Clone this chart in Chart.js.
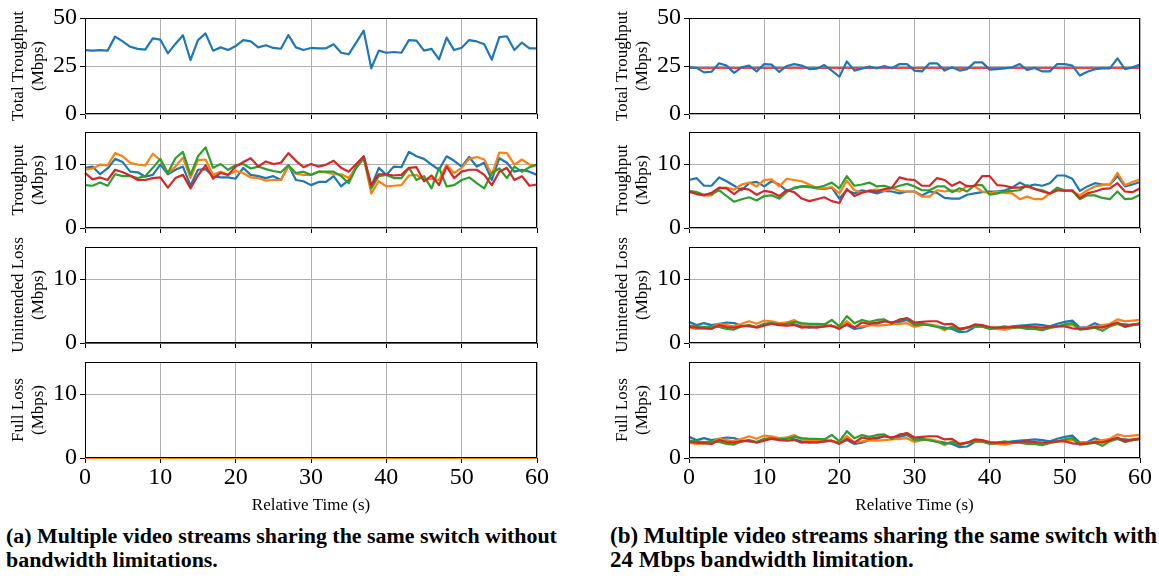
<!DOCTYPE html>
<html><head><meta charset="utf-8">
<script src="https://cdn.jsdelivr.net/npm/chart.js@4"></script>
<style>
html,body{margin:0;padding:0;background:#fff;}
body{width:1159px;height:578px;position:relative;overflow:hidden;}
canvas{position:absolute;}
.cap{position:absolute;font-family:'Liberation Serif',serif;font-weight:bold;font-size:20px;line-height:24px;color:#000;white-space:nowrap;}
</style></head><body>
<div id="capA" class="cap" style="left:6px;top:524px;">(a) Multiple video streams sharing the same switch without<br>bandwidth limitations.</div>
<div id="capB" class="cap" style="left:610px;top:524px;">(b) Multiple video streams sharing the same switch with<br>24 Mbps bandwidth limitation.</div>
<script>
// ---------- data ----------
const time = [0,1,2,3,4,5,6,7,8,9,10,11,12,13,14,15,16,17,18,19,20,21,22,23,24,25,26,27,28,29,30,31,32,33,34,35,36,37,38,39,40,41,42,43,44,45,46,47,48,49,50,51,52,53,54,55,56,57,58,59,60];
const xTicks = [0,10,20,30,40,50,60];
const yTicksTotal = [0,25,50];
const yTicksRate = [0,10];
const rowTitles = ['Total Troughput','Troughput','Unintended Loss','Full Loss'];
const unitTitle = '(Mbps)';
const xTitle = 'Relative Time (s)';
const bwLimitB = 24;

// (a) no bandwidth limitation
const totA = [33.3,33,33.3,33,40.3,37.8,35,33.9,33.5,39.4,38.7,31.6,36.5,41,28.1,38.5,42,33,34.7,33.3,35.4,38.5,37.8,34.7,35.8,34.4,34,41.1,34.7,33.3,34.4,34.2,34.2,36.3,31.9,31.1,37.2,43.4,23.8,33,31.9,32.3,31.9,38.5,38.2,33,33.9,28.5,39.8,33.3,34.5,38.5,37.8,36.3,28.3,40,40.5,33.3,37.2,34.2,34.2];
const thrA_blue = [9.4,9.6,8.4,9.3,10.8,10.3,8.8,8.7,8.0,8.3,9.9,8.4,9.1,9.6,6.6,9.1,9.2,8.1,7.9,7.9,7.7,9.4,8.3,8.1,7.8,8.1,7.5,9.8,7.5,7.3,6.7,7.2,7.2,8.1,6.5,7.5,9.6,11.2,6.5,9.4,8.3,9.6,9.5,11.9,11.2,10.8,9.9,9.1,11.2,10.5,9.6,11.1,9.6,10.2,7.5,10.9,10.2,8.8,9.1,8.8,8.3];
const thrA_orange = [9.1,9.3,9.9,9.8,11.7,11.2,10.2,9.9,9.8,11.6,10.6,8.6,9.6,11.0,7.8,10.6,10.7,8.3,8.8,8.3,8.9,8.6,7.9,7.8,7.4,7.5,7.5,9.6,8.5,8.3,8.3,8.8,8.7,8.4,8.4,7.8,9.4,10.9,5.4,7.3,6.5,6.6,6.7,8.2,8.3,7.5,7.7,7.5,9.9,8.6,9.4,10.8,11.1,10.7,8.3,11.8,11.7,9.9,10.7,9.9,9.8];
const thrA_green = [6.7,6.6,7.1,6.6,8.4,8.1,8.1,7.8,8.1,9.4,10.8,8.6,10.9,11.9,8.3,11.2,12.6,9.4,10.0,9.1,9.8,10.0,9.3,9.6,9.2,8.9,8.7,9.8,8.6,8.8,8.3,8.8,8.8,8.8,8.1,7.0,9.4,10.9,6.2,8.1,8.3,7.8,7.8,9.4,7.5,8.1,6.2,9.4,6.5,6.7,7.5,7.9,7.0,6.2,8.6,9.3,7.8,9.6,8.8,9.5,9.9];
const thrA_red = [8.6,7.6,7.9,7.5,9.1,8.7,8.2,7.5,7.5,7.8,7.9,6.3,7.8,8.3,6.2,8.2,9.8,7.7,8.6,8.3,9.6,10.3,10.9,9.6,10.4,10.0,10.2,11.7,10.5,9.5,10.0,9.6,9.9,10.5,9.4,8.8,10.0,11.2,6.7,8.4,8.4,8.2,8.3,9.4,9.5,7.3,8.2,6.7,9.6,7.8,8.8,9.1,9.1,8.3,6.7,8.8,9.4,7.5,8.1,6.6,6.8];
const unintA = [0,0,0,0,0,0,0,0,0,0,0,0,0,0,0,0,0,0,0,0,0,0,0,0,0,0,0,0,0,0,0,0,0,0,0,0,0,0,0,0,0,0,0,0,0,0,0,0,0,0,0,0,0,0,0,0,0,0,0,0,0];
const fullA = [0,0,0,0,0,0,0,0,0,0,0,0,0,0,0,0,0,0,0,0,0,0,0,0,0,0,0,0,0,0,0,0,0,0,0,0,0,0,0,0,0,0,0,0,0,0,0,0,0,0,0,0,0,0,0,0,0,0,0,0,0];

// (b) 24 Mbps limitation
const totB = [24.3,24,21.7,22,26.4,25.2,21.4,24.3,25.2,22.2,26,25.7,21.9,25,26,25.2,23.4,23.6,25.5,22.6,19.4,27.4,22.6,23.6,24.7,23.8,25,23.8,26,26,22.6,22.2,26.4,26.4,22.6,24.3,22.6,23.4,26.9,26.9,23.1,23.4,23.8,24.3,26,22.9,24,22.2,22.2,26,26,25.2,20,22,23.3,23.8,23.8,29,23.4,24.3,25.7];
const thrB_blue = [7.5,7.8,6.6,6.6,7.9,7.3,6.6,5.9,7.0,7.2,6.5,7.3,6.8,5.8,6.2,6.5,6.5,6.2,6.1,6.3,4.6,5.9,5.4,5.9,5.7,5.4,5.8,5.7,5.4,5.7,5.7,5.1,5.7,5.5,4.7,4.6,4.6,5.2,5.4,5.6,5.7,5.7,5.9,6.3,7.1,6.5,6.8,6.6,7.0,8.2,8.2,7.7,5.8,6.5,7.0,6.8,6.8,8.1,6.5,6.8,7.2];
const thrB_orange = [5.6,5.4,5.1,5.1,6.2,6.3,6.0,6.8,7.1,6.5,7.5,7.6,6.5,7.7,7.5,7.3,6.8,6.3,6.2,6.4,5.4,7.4,5.9,5.5,5.9,6.0,5.8,6.2,5.8,5.7,5.7,4.9,4.9,5.9,5.7,5.9,5.7,6.6,6.5,5.7,5.4,5.7,5.5,5.4,4.5,4.9,4.5,4.5,5.4,5.9,5.9,5.7,5.1,5.9,6.5,6.7,6.8,8.6,6.7,7.2,7.6];
const thrB_green = [5.8,5.6,5.2,5.3,5.9,5.0,4.1,4.5,4.8,4.3,5.0,5.1,4.6,5.6,6.3,6.5,6.4,6.3,6.6,7.1,6.2,8.1,6.6,6.8,7.1,6.5,6.6,6.2,6.6,6.9,6.5,5.9,5.9,6.5,6.5,5.6,6.2,5.7,6.7,6.7,5.2,5.4,5.7,5.8,5.9,6.7,6.1,5.9,5.4,6.3,5.9,5.8,4.5,5.1,5.1,4.7,4.5,5.7,4.5,4.6,5.2];
const thrB_red = [5.7,5.3,5.1,5.5,6.3,6.2,5.3,6.2,6.0,5.2,5.8,5.6,5.0,5.9,5.6,4.6,4.2,4.5,4.8,4.2,3.9,6.1,5.0,5.5,5.8,5.7,6.1,6.3,7.9,7.6,7.5,6.6,6.6,7.8,7.5,6.6,7.2,6.5,6.6,8.1,8.1,6.7,6.6,6.3,6.3,6.5,6.1,5.7,5.4,5.9,5.8,5.9,4.7,5.4,5.7,6.1,6.2,7.0,5.7,5.6,6.2];
const unintB_blue = [3.3,2.8,3.1,2.8,3.0,3.2,3.1,2.7,2.6,2.5,3.0,3.1,3.0,3.2,2.9,2.6,2.4,2.5,2.6,2.7,2.3,2.8,2.2,2.4,2.8,3.0,3.4,3.2,3.3,3.6,2.9,3.0,2.8,2.6,2.4,2.2,1.7,1.8,2.5,2.6,2.3,2.2,2.4,2.6,2.7,2.8,2.9,2.8,2.6,3.0,3.3,3.5,2.4,2.5,3.1,2.6,2.8,3.0,2.9,2.8,3.1];
const unintB_orange = [2.4,2.2,2.3,2.5,3.0,2.8,2.6,3.0,3.4,3.0,3.5,3.4,3.1,3.2,3.6,2.9,2.7,2.8,2.9,2.6,2.5,3.4,2.5,2.6,2.8,2.7,2.8,2.9,3.0,3.1,2.5,2.8,2.9,2.7,2.0,2.6,2.2,2.4,2.6,2.5,2.4,2.2,2.1,2.3,2.5,2.4,2.2,2.1,2.3,2.6,2.7,2.8,2.3,2.4,2.6,2.8,3.0,3.7,3.4,3.5,3.6];
const unintB_green = [2.7,2.6,2.5,2.6,2.5,2.2,2.1,2.6,2.8,2.5,2.9,3.1,2.9,3.0,3.3,3.1,3.0,3.0,2.9,3.6,2.6,4.2,3.1,3.6,3.3,3.6,3.7,3.0,3.7,3.8,2.8,2.9,2.8,2.5,2.2,2.5,2.0,2.4,2.6,2.6,2.2,2.4,2.6,2.4,2.4,2.2,2.2,2.0,2.4,2.6,2.9,3.1,2.1,2.2,2.4,1.9,2.6,3.0,2.5,2.8,3.0];
const unintB_red = [2.5,2.4,2.3,2.2,2.8,2.5,2.4,2.6,2.7,2.4,2.7,3.0,2.8,2.7,2.8,2.4,2.5,2.4,2.6,2.7,2.2,3.0,2.4,3.2,3.0,3.2,3.4,3.2,3.6,3.9,3.2,3.3,3.4,3.4,2.9,3.0,2.2,2.4,2.9,2.8,2.5,2.4,2.4,2.5,2.5,2.6,2.5,2.4,2.5,2.6,2.6,2.3,2.2,2.3,2.5,2.4,2.8,3.2,2.6,2.9,2.9];
const fullB_blue = [3.3,2.8,3.1,2.8,3.0,3.2,3.1,2.7,2.6,2.5,3.0,3.1,3.0,3.2,2.9,2.6,2.4,2.5,2.6,2.7,2.3,2.8,2.2,2.4,2.8,3.0,3.4,3.2,3.3,3.6,2.9,3.0,2.8,2.6,2.4,2.2,1.7,1.8,2.5,2.6,2.3,2.2,2.4,2.6,2.7,2.8,2.9,2.8,2.6,3.0,3.3,3.5,2.4,2.5,3.1,2.6,2.8,3.0,2.9,2.8,3.1];
const fullB_orange = [2.4,2.2,2.3,2.5,3.0,2.8,2.6,3.0,3.4,3.0,3.5,3.4,3.1,3.2,3.6,2.9,2.7,2.8,2.9,2.6,2.5,3.4,2.5,2.6,2.8,2.7,2.8,2.9,3.0,3.1,2.5,2.8,2.9,2.7,2.0,2.6,2.2,2.4,2.6,2.5,2.4,2.2,2.1,2.3,2.5,2.4,2.2,2.1,2.3,2.6,2.7,2.8,2.3,2.4,2.6,2.8,3.0,3.7,3.4,3.5,3.6];
const fullB_green = [2.7,2.6,2.5,2.6,2.5,2.2,2.1,2.6,2.8,2.5,2.9,3.1,2.9,3.0,3.3,3.1,3.0,3.0,2.9,3.6,2.6,4.2,3.1,3.6,3.3,3.6,3.7,3.0,3.7,3.8,2.8,2.9,2.8,2.5,2.2,2.5,2.0,2.4,2.6,2.6,2.2,2.4,2.6,2.4,2.4,2.2,2.2,2.0,2.4,2.6,2.9,3.1,2.1,2.2,2.4,1.9,2.6,3.0,2.5,2.8,3.0];
const fullB_red = [2.5,2.4,2.3,2.2,2.8,2.5,2.4,2.6,2.7,2.4,2.7,3.0,2.8,2.7,2.8,2.4,2.5,2.4,2.6,2.7,2.2,3.0,2.4,3.2,3.0,3.2,3.4,3.2,3.6,3.9,3.2,3.3,3.4,3.4,2.9,3.0,2.2,2.4,2.9,2.8,2.5,2.4,2.4,2.5,2.5,2.6,2.5,2.4,2.5,2.6,2.6,2.3,2.2,2.3,2.5,2.4,2.8,3.2,2.6,2.9,2.9];

// ---------- style / layout ----------
const C = {blue:'#1f77b4', orange:'#ff7f0e', green:'#2ca02c', red:'#d62728', limit:'#ff0000'};
const FONT = "'Liberation Serif', 'Times New Roman', serif";
const PANELS = [
  {left:0, width:560, plotLeft:85, plotRight:537},
  {left:604, width:555, plotLeft:689, plotRight:1140}
];
const ROW_TOPS = [18, 132, 247, 362];
const ROW_H = 96;
const PAD_TOP = 18;

const boxPlugin = {
  id:'box',
  afterDraw(chart){
    const a = chart.chartArea, ctx = chart.ctx;
    ctx.save();
    ctx.strokeStyle = '#000'; ctx.lineWidth = 1;
    ctx.strokeRect(Math.round(a.left)+0.5, Math.round(a.top)+0.5, Math.round(a.right-a.left)-1, Math.round(a.bottom-a.top)-1);
    ctx.restore();
  }
};

function pts(vals){ return time.map((t,i)=>({x:t, y:vals[i]})); }

function makeChart(panel, row, yMax, yTicks, series){
  const P = PANELS[panel];
  const bottom = row === 3;
  const xH = bottom ? 62 : 20;
  const h = PAD_TOP + ROW_H + xH;
  const cv = document.createElement('canvas');
  cv.width = P.width; cv.height = h;
  cv.style.left = P.left + 'px'; cv.style.top = (ROW_TOPS[row] - PAD_TOP) + 'px';
  cv.style.width = P.width + 'px'; cv.style.height = h + 'px';
  document.body.appendChild(cv);
  const yW = P.plotLeft - P.left;
  const padRight = P.width - (P.plotRight - P.left);
  new Chart(cv, {
    type:'line',
    data:{datasets: series.map(s => ({
      data: pts(s.vals), borderColor: s.color, backgroundColor: s.color,
      borderWidth: s.width || 2.2, pointRadius: 0, tension: 0, order: s.order,
      borderJoinStyle:'round', fill:false, clip:false
    }))},
    options:{
      responsive:false, animation:false, devicePixelRatio:1, events:[],
      layout:{padding:{top:PAD_TOP, left:0, right:padRight, bottom:0}},
      plugins:{legend:{display:false}, tooltip:{enabled:false}},
      scales:{
        x:{
          type:'linear', min:0, max:60,
          afterBuildTicks: s => { s.ticks = xTicks.map(v => ({value:v})); },
          afterFit: s => { s.height = xH; s.paddingLeft = 0; s.paddingRight = 0; },
          ticks:{display:bottom, font:{family:FONT, size:24}, color:'#000', padding:0, maxRotation:0},
          grid:{color:'#b0b0b0', lineWidth:1, tickColor:'#000', tickLength:5, drawTicks:true},
          border:{display:false},
          title:{display:bottom, text:xTitle, font:{family:FONT, size:17, lineHeight:1.2}, color:'#000', padding:{top:0, bottom:4}}
        },
        y:{
          type:'linear', min:0, max:yMax,
          afterBuildTicks: s => { s.ticks = yTicks.map(v => ({value:v})); },
          afterFit: s => { s.width = yW; s.paddingTop = 0; s.paddingBottom = 0; },
          ticks:{font:{family:FONT, size:24}, color:'#000', padding:3},
          grid:{color:'#b0b0b0', lineWidth:1, tickColor:'#000', tickLength:5, drawTicks:true},
          border:{display:false},
          title:{display:true, text:[rowTitles[row], unitTitle], font:{family:FONT, size:17, lineHeight:1.15}, color:'#000', padding:{top:9, bottom:0}}
        }
      }
    },
    plugins:[boxPlugin]
  });
}

function four(b,o,g,r){
  return [
    {vals:b, color:C.blue, order:3},
    {vals:o, color:C.orange, order:2},
    {vals:g, color:C.green, order:1},
    {vals:r, color:C.red, order:0}
  ];
}

// panel (a)
makeChart(0, 0, 50, yTicksTotal, [{vals:totA, color:C.blue, order:0}]);
makeChart(0, 1, 15, yTicksRate, four(thrA_blue, thrA_orange, thrA_green, thrA_red));
makeChart(0, 2, 15, yTicksRate, four(unintA, unintA, unintA, unintA));
makeChart(0, 3, 15, yTicksRate, [
  {vals:fullA, color:C.blue, order:3},{vals:fullA, color:C.green, order:2},
  {vals:fullA, color:C.red, order:1},{vals:fullA, color:C.orange, order:0}]);

// panel (b)
makeChart(1, 0, 50, yTicksTotal, [
  {vals:totB, color:C.blue, order:0},
  {vals:time.map(() => bwLimitB), color:C.limit, width:1.5, order:1}]);
makeChart(1, 1, 15, yTicksRate, four(thrB_blue, thrB_orange, thrB_green, thrB_red));
makeChart(1, 2, 15, yTicksRate, four(unintB_blue, unintB_orange, unintB_green, unintB_red));
makeChart(1, 3, 15, yTicksRate, four(fullB_blue, fullB_orange, fullB_green, fullB_red));

// captions: fit first line to the reference width
function fitCaption(id, line1, target){
  const ctx = document.createElement('canvas').getContext('2d');
  ctx.font = "bold 20px " + FONT;
  const w = ctx.measureText(line1).width;
  document.getElementById(id).style.fontSize = (20 * target / w).toFixed(2) + 'px';
}
fitCaption('capA', '(a) Multiple video streams sharing the same switch without', 551);
fitCaption('capB', '(b) Multiple video streams sharing the same switch with', 547);
</script>
</body></html>
